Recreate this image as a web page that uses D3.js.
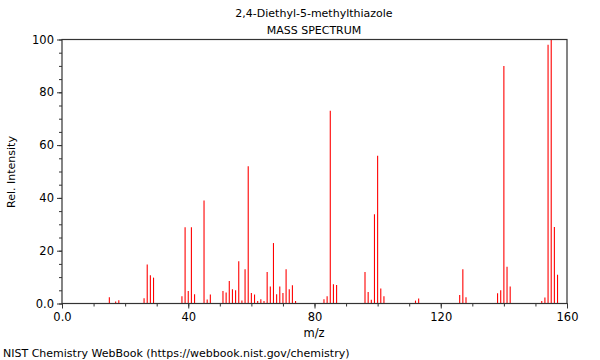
<!DOCTYPE html>
<html>
<head>
<meta charset="utf-8">
<script src="https://cdn.jsdelivr.net/npm/d3@7"></script>
<style>
body{margin:0;background:#fff;}
svg{display:block;font-family:"DejaVu Sans",sans-serif;}
</style>
</head>
<body>
<svg id="chart" width="600" height="360"></svg>
<script>
const mz = [15,17,18,26,27,28,29,38,39,40,41,42,45,46,47,51,52,53,54,55,56,57,58,59,60,61,62,63,64,65,66,67,68,69,70,71,72,73,74,83,84,85,86,87,96,97,98,99,100,101,102,112,113,126,127,128,138,139,140,141,142,152,153,154,155,156,157];
const intensity = [2.4,0.8,1.2,2,14.8,10.7,9.8,2.7,28.9,4.7,28.9,3.5,39,1.5,3.4,4.7,4.2,8.5,5.4,5,16,1.1,13,52,4,3.4,0.9,1.6,0.9,11.9,6.4,22.9,3.5,6.4,4,13,5.4,6.9,0.9,1.6,2.7,73,7.3,7,11.9,4.4,1.4,33.8,56,5.7,2.7,1.1,1.9,3.2,13,2.4,3.9,5,90,13.9,6.4,0.9,2.3,98,100,29,10.9];
const xTicks = [0,40,80,120,160];
const xTickLabels = ["0.0","40","80","120","160"];
const yTicks = [0,20,40,60,80,100];
const yTickLabels = ["0.0","20","40","60","80","100"];
const titleLines = ["2,4-Diethyl-5-methylthiazole","MASS SPECTRUM"];

const svg = d3.select("#chart");
const L=62, R=567, T=39.5, B=303.5;
const x = d3.scaleLinear().domain([0,160]).range([L,R]);
const y = d3.scaleLinear().domain([0,100]).range([B,T]);
const axisColor="#333";

// peaks
svg.append("g").selectAll("line").data(mz).join("line")
  .attr("x1",(d)=>x(d)).attr("x2",(d)=>x(d))
  .attr("y1",y(0)).attr("y2",(d,i)=>y(intensity[i]))
  .attr("stroke","#ff0000").attr("stroke-width",1.1);

// frame
svg.append("rect").attr("x",L).attr("y",T).attr("width",R-L).attr("height",B-T)
  .attr("fill","none").attr("stroke",axisColor).attr("stroke-width",1.2);

// x axis
const xMinor = d3.axisBottom(x).tickValues(d3.range(0,161,10)).tickSize(3).tickFormat("");
const gxm = svg.append("g").attr("transform",`translate(0,${B})`).call(xMinor);
const xAxis = d3.axisBottom(x).tickValues(xTicks).tickSize(5).tickPadding(4)
  .tickFormat((d,i)=>xTickLabels[i]);
const gx = svg.append("g").attr("transform",`translate(0,${B})`).call(xAxis);

// y axis
const yMinor = d3.axisLeft(y).tickValues(d3.range(0,101,5)).tickSize(3).tickFormat("");
const gym = svg.append("g").attr("transform",`translate(${L},0)`).call(yMinor);
const yAxis = d3.axisLeft(y).tickValues(yTicks).tickSize(5).tickPadding(3)
  .tickFormat((d,i)=>yTickLabels[i]);
const gy = svg.append("g").attr("transform",`translate(${L},0)`).call(yAxis);

[gxm,gx,gym,gy].forEach(g=>{
  g.select(".domain").remove();
  g.selectAll("line").attr("stroke",axisColor);
  g.selectAll("text").attr("fill","#000").style("font-family","DejaVu Sans").style("font-size","11.5px");
});

// titles
svg.append("g").selectAll("text").data(titleLines).join("text")
  .attr("x",314).attr("y",(d,i)=>17+i*17).attr("text-anchor","middle")
  .style("font-size","11px").attr("fill","#000").text(d=>d);

svg.append("text").attr("x",314).attr("y",337).attr("text-anchor","middle")
  .style("font-size","11.5px").text("m/z");
svg.append("text").attr("transform","translate(15,172) rotate(-90)").attr("text-anchor","middle")
  .style("font-size","11px").text("Rel. Intensity");
svg.append("text").attr("x",3).attr("y",357)
  .style("font-size","11px").text("NIST Chemistry WebBook (https://webbook.nist.gov/chemistry)");
</script>
</body>
</html>
